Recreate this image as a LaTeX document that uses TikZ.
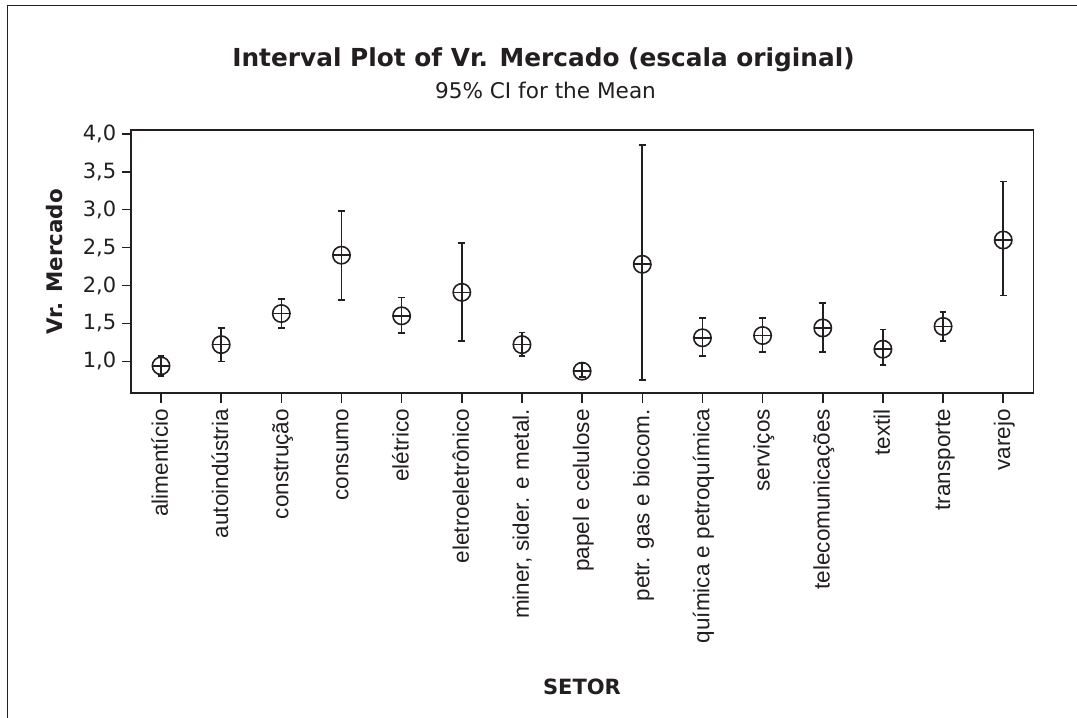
\documentclass[tikz,border=0pt]{standalone}
\usepackage{fontspec}
\setmainfont{DejaVu Sans}
\newfontfamily\catfont{Liberation Sans}
\usepackage{tikz}
\usetikzlibrary{positioning}
\definecolor{plotink}{RGB}{35,31,32}
\colorlet{figink}{plotink}

\begin{document}
\begin{tikzpicture}[
  x=1pt, y=-1pt,
  every node/.append style={text=figink, inner sep=0pt},
  axisline/.style={figink, line width=1.5pt},
  whisker/.style={figink, line width=1.6pt},
  ticklabel/.style={font=\fontsize{21}{24}\selectfont},
  catlabel/.style={font=\catfont\fontsize{22.5}{26}\selectfont, rotate=90, anchor=base east},
]
  \useasboundingbox (0,0) rectangle (1077,718);
  \fill[white] (0,0) rectangle (1077,718);
  \draw[axisline, line width=1.4pt] (7.5,730) |- (1090,5.5);

  \node[font=\bfseries\fontsize{24.8}{30}\selectfont, anchor=base] (title) at (543.5,66.7)
    {Interval Plot of Vr. Mercado (escala original)};
  \node[font=\fontsize{21.6}{26}\selectfont, anchor=base] (subtitle) at (545.5,98.3)
    {95\% CI for the Mean};
  \node[font=\bfseries\fontsize{21.4}{26}\selectfont, rotate=90, anchor=base] (ylab) at (62.7,262)
    {Vr. Mercado};
  \node[font=\bfseries\fontsize{21}{26}\selectfont, anchor=base] (xlab) at (582,694) {SETOR};

  \begin{scope}[shift={(100.84,437.1)}, x=60.16pt, y=75.8pt]
    \draw[axisline] (0.5,0.582) rectangle (15.5,4.05);

    \foreach \v/\lab in {1/{1,0},1.5/{1,5},2/{2,0},2.5/{2,5},3/{3,0},3.5/{3,5},4/{4,0}} {
      \draw[axisline] (0.5,\v) -- ++(-9pt,0) node[ticklabel, left=5pt] (yt\v) {\lab};
    }

    \foreach \i/\name in {
      1/alimentício,
      2/autoindústria,
      3/construção,
      4/consumo,
      5/elétrico,
      6/eletroeletrônico,
      7/{miner, sider. e metal.},
      8/papel e celulose,
      9/petr. gas e biocom.,
      10/química e petroquímica,
      11/serviços,
      12/telecomunicações,
      13/textil,
      14/transporte,
      15/varejo%
    } {
      \draw[axisline] (\i,0.582) -- ++(0,-10pt);
      \node[catlabel] (cat\i) at (\i+0.116,0.371) {\name};
    }

    \foreach \i/\m/\lo/\hi in {
      1/0.94/0.81/1.07,
      2/1.22/1.00/1.44,
      3/1.63/1.44/1.82,
      4/2.40/1.81/2.98,
      5/1.60/1.37/1.84,
      6/1.91/1.27/2.56,
      7/1.22/1.07/1.38,
      8/0.87/0.79/0.97,
      9/2.28/0.75/3.85,
      10/1.31/1.07/1.57,
      11/1.34/1.12/1.57,
      12/1.44/1.12/1.77,
      13/1.16/0.95/1.42,
      14/1.46/1.27/1.65,
      15/2.60/1.87/3.37%
    } {
      \draw[whisker] (\i,\lo) -- (\i,\hi);
      \draw[whisker] (\i,\lo) ++(-3.4pt,0) -- ++(6.8pt,0);
      \draw[whisker] (\i,\hi) ++(-3.4pt,0) -- ++(6.8pt,0);
      \draw[whisker] (\i,\m) circle[radius=8.7pt];
      \draw[whisker] (\i,\m) ++(-8.7pt,0) -- ++(17.4pt,0);
    }
  \end{scope}
\end{tikzpicture}
\end{document}
